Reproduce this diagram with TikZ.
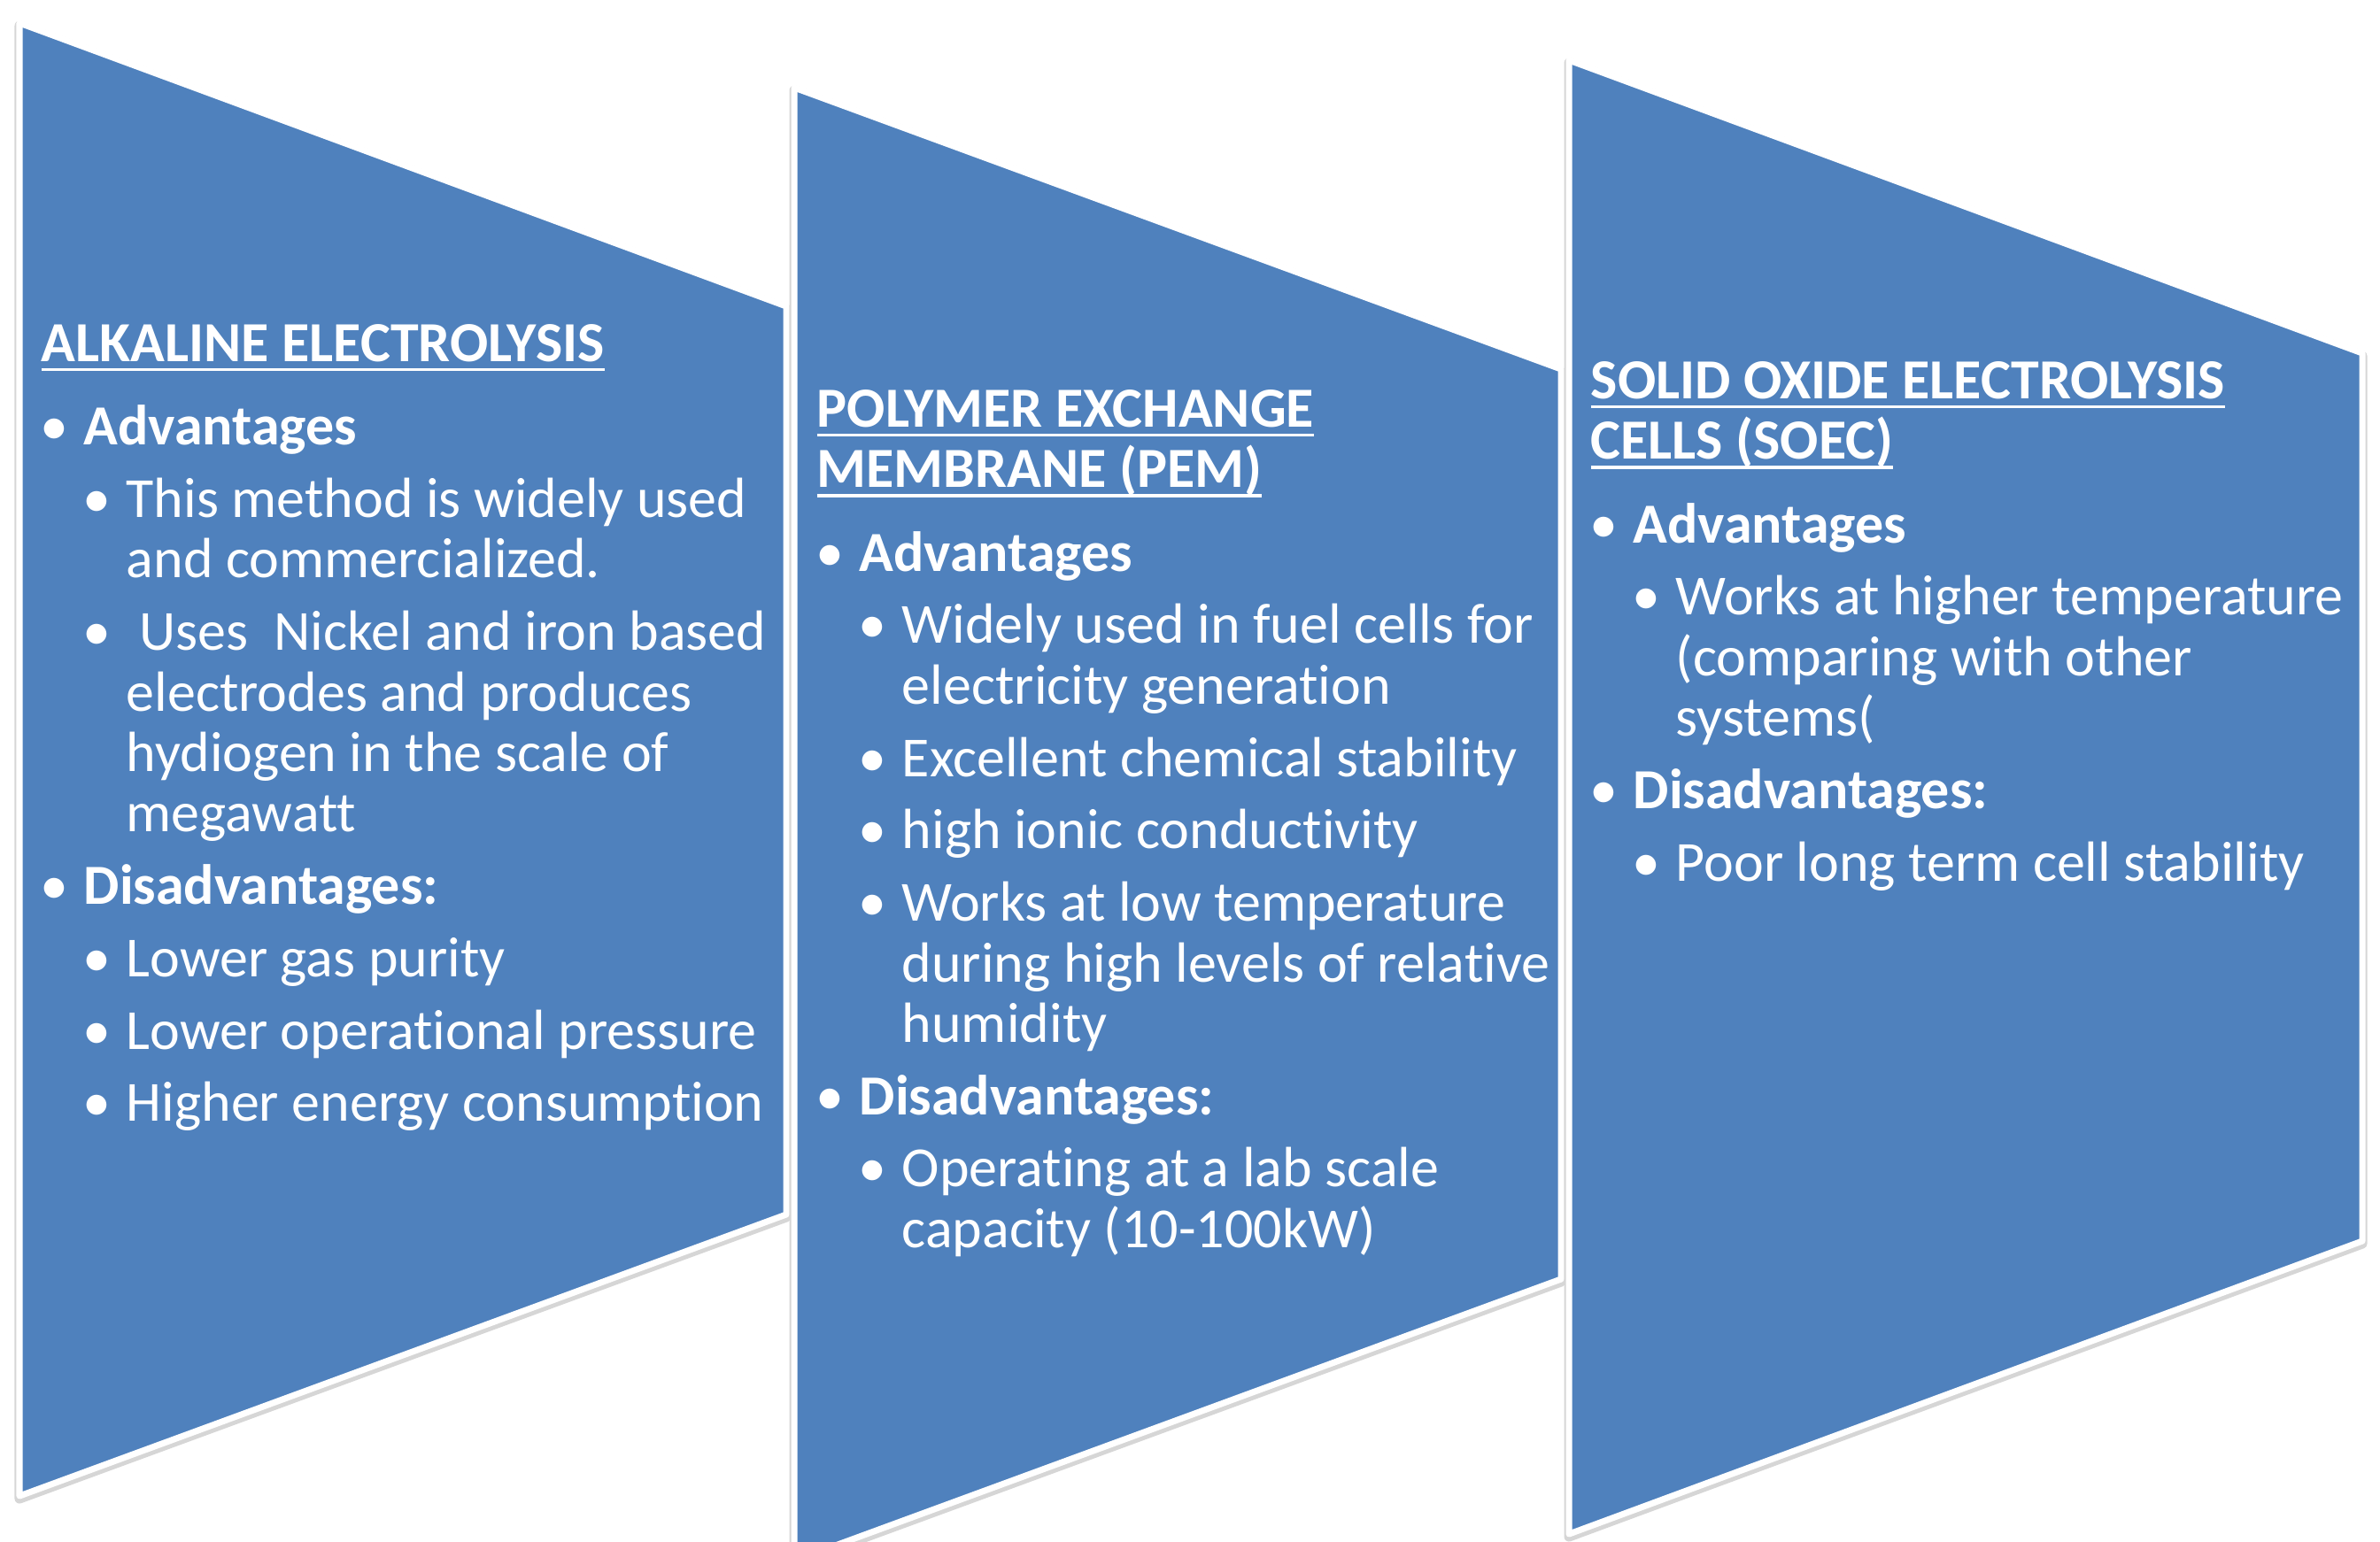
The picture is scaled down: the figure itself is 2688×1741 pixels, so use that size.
\documentclass[tikz,border=0pt]{standalone}
\usepackage{fontspec}
\setmainfont{Carlito}[Ligatures=NoCommon]
\usepackage{enumitem}

\setlength{\parindent}{0pt}
\setlength{\parskip}{0pt}

\definecolor{panelBlue}{RGB}{79,129,189}
\newcommand\colorPanel{panelBlue}
\newcommand\colorRim{white}
\newcommand\colorShade{black!16}

% one slanted panel: left x, right x, then the corners' y
% (top left, top right, bottom right, bottom left)
\newcommand\drawPanel[6]{
	\draw[color=\colorShade, line width=0.11cm, line join=round, yshift=-0.03cm]
		(#1,#3) -- (#2,#4) -- (#2,#5) -- (#1,#6) -- cycle;
	\filldraw[fill=\colorPanel, draw=\colorRim, line width=0.07cm, line join=round]
		(#1,#3) -- (#2,#4) -- (#2,#5) -- (#1,#6) -- cycle;
}

% underlined heading line
\newlength\headlineWd
\newcommand\headline[1]{\leavevmode\settowidth{\headlineWd}{#1}\rlap{\rule[-3.2pt]{\headlineWd}{1pt}}#1}

\setlist[itemize]{label=\makebox[0pt]{\textbullet}, align=right, leftmargin=0.48cm,
	labelsep=0.33cm, itemsep=3.8pt, parsep=0pt, partopsep=0pt}
\setlist[itemize,1]{topsep=7.5pt}
\setlist[itemize,2]{topsep=3.8pt}

\tikzset{
	panel text/.style={anchor=base west, text width=9.2cm, align=flush left, inner sep=0pt,
		text=white, font=\fontsize{18.2pt}{19.45pt}\selectfont}
}

\begin{document}
\begin{tikzpicture}[x=0.01cm, y=-0.01cm]
	\clip (0,0) rectangle (2688,1741);
	\fill[white] (0,0) rectangle (2688,1741);

	\drawPanel{22}{888}{26}{346}{1372}{1690}
	\drawPanel{897}{1763}{99}{417}{1445}{1763}
	\drawPanel{1772}{2668}{68}{399}{1402}{1733}

	\node[panel text] (alkText) at (46,408) {%
		\textbf{\headline{ALKALINE ELECTROLYSIS}}
		\begin{itemize}
			\item \textbf{Advantages}
			\begin{itemize}
				\item This method is widely used\\and commercialized.
				\item \ Uses\ \ Nickel and iron based\\electrodes and produces\\hydiogen in the scale of\\megawatt
			\end{itemize}
			\item \textbf{Disadvantages:}
			\begin{itemize}
				\item Lower gas purity
				\item Lower operational pressure
				\item Higher energy consumption
			\end{itemize}
		\end{itemize}};

	\node[panel text] (pemText) at (922,482) {%
		\textbf{\headline{POLYMER EXCHANGE}\\\headline{MEMBRANE (PEM)}}
		\begin{itemize}
			\item \textbf{Advantages}
			\begin{itemize}
				\item Widely used in fuel cells for\\electricity generation
				\item Excellent chemical stability
				\item high ionic conductivity
				\item Works at low temperature\\during high levels of relative\\humidity
			\end{itemize}
			\item \textbf{Disadvantages:}
			\begin{itemize}
				\item Operating at a lab scale\\capacity (10-100kW)
			\end{itemize}
		\end{itemize}};

	\node[panel text] (soecText) at (1796,450) {%
		\textbf{\headline{SOLID OXIDE ELECTROLYSIS}\\\headline{CELLS (SOEC)}}
		\begin{itemize}
			\item \textbf{Advantages}
			\begin{itemize}
				\item Works at higher temperature\\(comparing with other\\systems(
			\end{itemize}
			\item \textbf{Disadvantages:}
			\begin{itemize}
				\item Poor long term cell stability
			\end{itemize}
		\end{itemize}};
\end{tikzpicture}
\end{document}
